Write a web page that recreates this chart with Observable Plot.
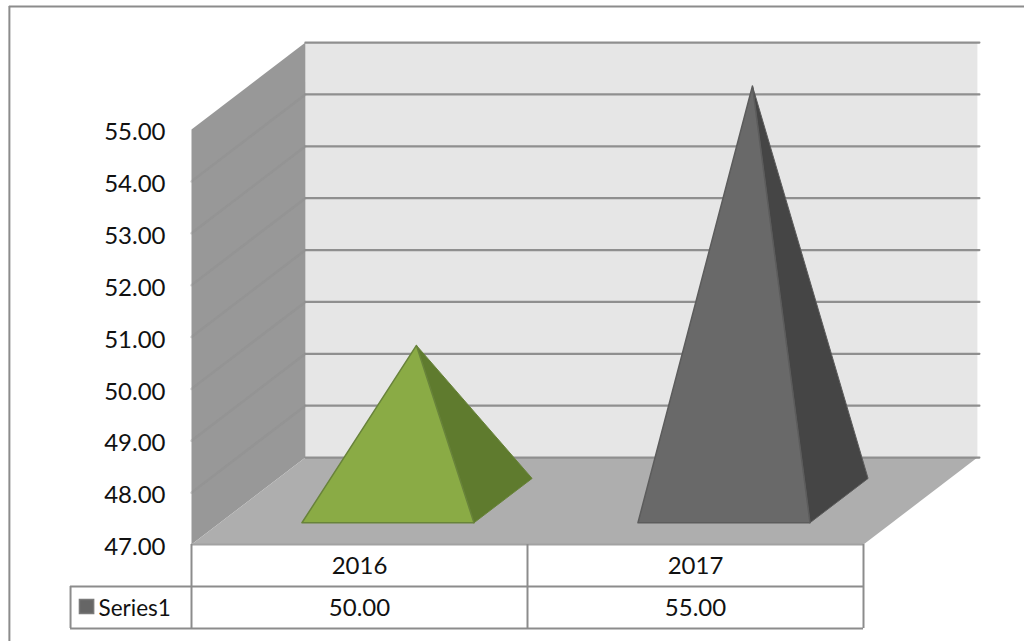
<!DOCTYPE html>
<html>
<head>
<meta charset="utf-8">
<script src="https://cdn.jsdelivr.net/npm/d3@7"></script>
<script src="https://cdn.jsdelivr.net/npm/@observablehq/plot@0.6"></script>
<style>
  html, body { margin: 0; padding: 0; background: #fff; overflow: hidden; }
  svg { display: block; }
</style>
</head>
<body>
<div id="chart"></div>
<script>
// Series and axis values
const categories = ["2016", "2017"];
const seriesName = "Series1";
const seriesValues = [50, 55];
const axisTicks = [47, 48, 49, 50, 51, 52, 53, 54, 55];
const faceColors = [
  { front: "#8aab45", side: "#5f7b2e", edge: "#68833a" },
  { front: "#696969", side: "#454545", edge: "#5c5c5c" }
];

// Oblique projection: depth 0 is the front plane, depth 1 the back wall
const depthX = 0.339;   // category units per unit of depth
const depthY = 1.676;   // value units per unit of depth
const project = (cat, value, depth) => ({ x: cat + depth * depthX, y: value + depth * depthY });

const yMin = axisTicks[0];
const yMax = axisTicks[axisTicks.length - 1];
const rowTop = 46.19;      // boundary between the category row and the value row
const rowBottom = 45.38;   // bottom edge of the data table
const legendLeft = -0.36;  // left edge of the legend cell
const frameLeft = -0.542;  // outer frame, left edge
const frameTop = 57.37;    // outer frame, top edge

const polygon = (corners) => [...corners, corners[0]].map(([c, v, d]) => project(c, v, d));
const face = (corners, options) =>
  Plot.line(polygon(corners), { x: "x", y: "y", curve: "linear", ...options });

// Walls and floor of the box
const backWall = face([[0, yMin, 1], [2, yMin, 1], [2, yMax, 1], [0, yMax, 1]], { fill: "#e6e6e6", stroke: "none" });
const sideWall = face([[0, yMin, 0], [0, yMin, 1], [0, yMax, 1], [0, yMax, 0]], { fill: "#989898", stroke: "none" });
const floor = face([[0, yMin, 0], [2, yMin, 0], [2, yMin, 1], [0, yMin, 1]], { fill: "#aeaeae", stroke: "none" });

// Gridlines run across the back wall and fade along the side wall
const gridBack = axisTicks.map((t) => [project(0, t, 1), project(2.006, t, 1)]).flat()
  .map((p, i) => ({ ...p, tick: Math.floor(i / 2) }));
const gridSide = axisTicks.slice(1, -1).map((t) => [project(0, t, 0), project(0, t, 1)]).flat()
  .map((p, i) => ({ ...p, tick: Math.floor(i / 2) }));

// Each pyramid stands mid-depth; its apex reaches the series value
const halfWidth = 0.256;
const baseFront = 0.25;
const baseBack = 0.76;
const pyramid = (value, i) => {
  const c = i + 0.5;
  const apex = [c, value, 0.5];
  const left = [c - halfWidth, yMin, baseFront];
  const right = [c + halfWidth, yMin, baseFront];
  const back = [c + halfWidth, yMin, baseBack];
  const colors = faceColors[i];
  return [
    face([right, back, apex], { fill: colors.side, stroke: colors.edge, strokeWidth: 1 }),
    face([left, right, apex], { fill: colors.front, stroke: colors.edge, strokeWidth: 1.5 })
  ];
};

const font = { fontFamily: "Lato, 'Noto Sans', sans-serif", fontSize: 24, fill: "#111" };
const tableColor = "#8c8c8c";
const centres = categories.map((_, i) => i + 0.5);

const chart = Plot.plot({
  width: 1024,
  height: 641,
  margin: 0,
  style: { background: "#fff" },
  x: { domain: [0, 2], range: [191, 863], axis: null },
  y: { domain: [yMin, yMax], range: [544, 129], axis: null },
  marks: [
    backWall,
    sideWall,
    floor,
    Plot.line(gridSide, { x: "x", y: "y", z: "tick", stroke: "#8c8c8c", strokeWidth: 2.5, strokeOpacity: 0.35 }),
    Plot.line(gridBack, { x: "x", y: "y", z: "tick", stroke: "#8f8f8f", strokeWidth: 2.2 }),
    Plot.ruleY([yMin], { x1: 0, x2: 2, stroke: "#a2a2a2", strokeWidth: 2 }),
    ...seriesValues.flatMap(pyramid),

    // Data table beneath the box
    Plot.ruleX([0, 1, 2], { y1: yMin, y2: rowBottom, stroke: tableColor, strokeWidth: 2 }),
    Plot.ruleX([legendLeft], { y1: rowTop, y2: rowBottom, stroke: tableColor, strokeWidth: 2 }),
    Plot.ruleY([rowTop, rowBottom], { x1: legendLeft, x2: 2, stroke: tableColor, strokeWidth: 2 }),

    // Value axis labels
    Plot.text(axisTicks, {
      x: 0, y: (d) => d, text: d3.format(".2f"),
      textAnchor: "end", dx: -26, dy: 3, ...font
    }),
    // Table text
    Plot.text(categories, {
      x: centres, y: (rowTop + yMin) / 2, text: (d) => d, textAnchor: "middle", dy: 1, ...font
    }),
    Plot.text(seriesValues, {
      x: centres, y: (rowTop + rowBottom) / 2, text: d3.format(".2f"), textAnchor: "middle", dy: 1, ...font
    }),
    Plot.text([seriesName], {
      x: legendLeft, y: (rowTop + rowBottom) / 2, text: (d) => d, textAnchor: "start", dx: 28, dy: 1,
      ...font, fontSize: 22.5
    }),
    // Legend swatch
    Plot.dot([seriesName], {
      x: legendLeft, y: (rowTop + rowBottom) / 2, dx: 16, dy: -1,
      symbol: "square", r: 8, fill: "#666666", stroke: "#7a7a7a"
    }),

    // Outer frame, open on the right and at the bottom
    Plot.ruleY([frameTop], { x1: frameLeft, x2: 2.5, stroke: tableColor, strokeWidth: 2 }),
    Plot.ruleX([frameLeft], { y1: frameTop, y2: yMin - 2, stroke: tableColor, strokeWidth: 2 })
  ]
});

document.getElementById("chart").append(chart);
</script>
</body>
</html>
